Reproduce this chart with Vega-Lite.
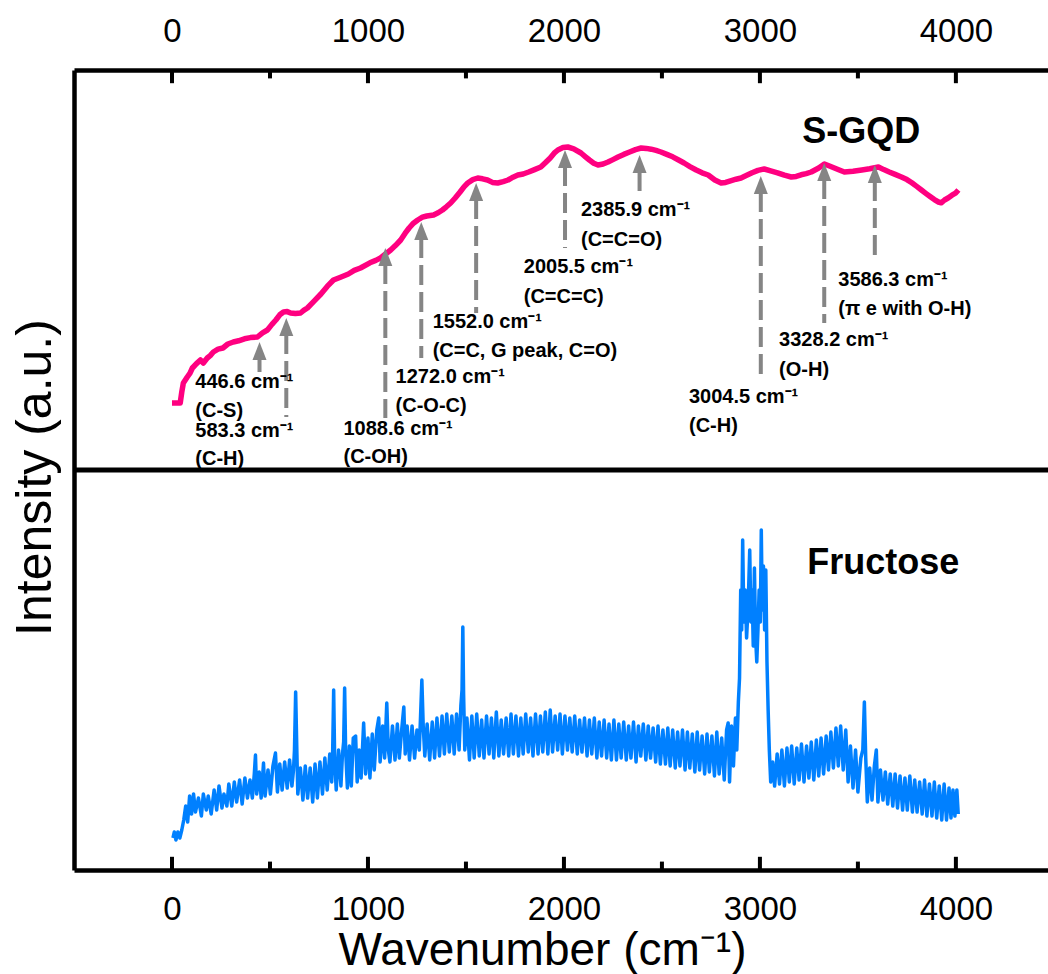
{
  "$schema": "https://vega.github.io/schema/vega-lite/v6.json",
  "width": 974,
  "height": 800,
  "autosize": {"type": "none"},
  "padding": {"left": 74, "top": 70, "right": 0, "bottom": 104},
  "background": "white",
  "config": {"view": {"stroke": null}, "font": "Liberation Sans"},
  "datasets": {
    "sgqd": [
      {"w":0,"i":116.75},{"w":42,"i":116.75},{"w":50,"i":119.5},{"w":58,"i":121.75},{"w":78,"i":123.25},{"w":92,"i":124.2},{"w":104,"i":125.5},{"w":125,"i":126.6},{"w":145,"i":127.5},{"w":160,"i":126.75},{"w":180,"i":128},{"w":195,"i":128.6},{"w":211,"i":129.5},{"w":235,"i":130.2},{"w":260,"i":130.5},{"w":285,"i":131.5},{"w":313,"i":132},{"w":340,"i":132.3},{"w":370,"i":132.8},{"w":400,"i":133.1},{"w":436,"i":133.25},{"w":462,"i":134.3},{"w":487,"i":135},{"w":510,"i":136.4},{"w":530,"i":137.5},{"w":550,"i":138.8},{"w":569,"i":139.5},{"w":588,"i":139.6},{"w":605,"i":139.25},{"w":630,"i":139.1},{"w":656,"i":139.25},{"w":672,"i":139.9},{"w":691,"i":140.5},{"w":725,"i":142.2},{"w":760,"i":144},{"w":792,"i":145.9},{"w":824,"i":147.5},{"w":860,"i":148.2},{"w":900,"i":149},{"w":930,"i":149.9},{"w":962,"i":150.5},{"w":1010,"i":151.8},{"w":1040,"i":152.4},{"w":1064,"i":153},{"w":1090,"i":154},{"w":1116,"i":155},{"w":1140,"i":156.1},{"w":1167,"i":157.5},{"w":1190,"i":159.2},{"w":1210,"i":160.5},{"w":1232,"i":161.7},{"w":1254,"i":162.5},{"w":1278,"i":163.2},{"w":1300,"i":163.5},{"w":1335,"i":163.75},{"w":1358,"i":164.3},{"w":1380,"i":165},{"w":1400,"i":165.8},{"w":1422,"i":166.75},{"w":1445,"i":168},{"w":1470,"i":169.5},{"w":1490,"i":170.8},{"w":1509,"i":171.75},{"w":1535,"i":172.6},{"w":1560,"i":173},{"w":1585,"i":172.8},{"w":1610,"i":172.5},{"w":1635,"i":171.9},{"w":1662,"i":171.75},{"w":1690,"i":172.1},{"w":1715,"i":172.5},{"w":1740,"i":173.2},{"w":1765,"i":173.75},{"w":1792,"i":174},{"w":1820,"i":174.5},{"w":1850,"i":175.1},{"w":1882,"i":175.75},{"w":1905,"i":176.8},{"w":1930,"i":178},{"w":1950,"i":179.2},{"w":1969,"i":180},{"w":1995,"i":180.6},{"w":2020,"i":180.75},{"w":2050,"i":180.3},{"w":2087,"i":179.25},{"w":2110,"i":178.3},{"w":2130,"i":177.5},{"w":2152,"i":176.7},{"w":2174,"i":176.25},{"w":2200,"i":176.5},{"w":2225,"i":177},{"w":2250,"i":177.6},{"w":2276,"i":178.25},{"w":2305,"i":178.9},{"w":2335,"i":179.5},{"w":2365,"i":180.1},{"w":2394,"i":180.5},{"w":2420,"i":180.4},{"w":2445,"i":180.2},{"w":2470,"i":179.9},{"w":2495,"i":179.5},{"w":2525,"i":178.9},{"w":2555,"i":178.3},{"w":2585,"i":177.5},{"w":2613,"i":176.75},{"w":2645,"i":175.8},{"w":2675,"i":175},{"w":2705,"i":174.3},{"w":2736,"i":173.75},{"w":2770,"i":172.5},{"w":2802,"i":171.75},{"w":2825,"i":171.9},{"w":2850,"i":172.3},{"w":2878,"i":172.7},{"w":2904,"i":173},{"w":2930,"i":173.6},{"w":2960,"i":174.3},{"w":2990,"i":174.9},{"w":3022,"i":175.25},{"w":3055,"i":174.8},{"w":3090,"i":174.3},{"w":3125,"i":173.7},{"w":3160,"i":173.25},{"w":3185,"i":173.4},{"w":3210,"i":173.8},{"w":3236,"i":174.1},{"w":3262,"i":174.5},{"w":3300,"i":175.5},{"w":3329,"i":176.5},{"w":3355,"i":176},{"w":3380,"i":175.5},{"w":3405,"i":175},{"w":3431,"i":174.5},{"w":3475,"i":174.7},{"w":3520,"i":175},{"w":3560,"i":175.3},{"w":3605,"i":175.75},{"w":3632,"i":175.1},{"w":3660,"i":174.5},{"w":3690,"i":173.9},{"w":3722,"i":173.25},{"w":3750,"i":172.6},{"w":3775,"i":171.8},{"w":3800,"i":170.9},{"w":3824,"i":170},{"w":3848,"i":169.1},{"w":3870,"i":168.3},{"w":3890,"i":167.6},{"w":3911,"i":167},{"w":3925,"i":166.8},{"w":3942,"i":167.5},{"w":3960,"i":168},{"w":3980,"i":168.7},{"w":3998,"i":169.2},{"w":4013,"i":170}
    ],
    "fructose": [
      {"w":5,"i":8},{"w":12,"i":9.5},{"w":20,"i":7.5},{"w":30,"i":9.5},{"w":40,"i":8},{"w":50,"i":10},{"w":60,"i":12.5},{"w":70,"i":16},{"w":80,"i":12},{"w":90,"i":18.5},{"w":100,"i":14},{"w":110,"i":19},{"w":120,"i":14.5},{"w":135,"i":18},{"w":150,"i":13.5},{"w":160,"i":19},{"w":175,"i":15},{"w":185,"i":18.5},{"w":200,"i":14},{"w":215,"i":20},{"w":228,"i":15},{"w":240,"i":21},{"w":255,"i":15.5},{"w":265,"i":19},{"w":280,"i":16},{"w":290,"i":21.5},{"w":305,"i":16},{"w":318,"i":22},{"w":330,"i":17},{"w":345,"i":22.5},{"w":358,"i":16.5},{"w":372,"i":23},{"w":385,"i":18},{"w":398,"i":22.5},{"w":410,"i":18},{"w":420,"i":24},{"w":426,"i":28.75},{"w":432,"i":19},{"w":445,"i":24.5},{"w":455,"i":18},{"w":467,"i":26.75},{"w":475,"i":18.5},{"w":490,"i":25},{"w":502,"i":19},{"w":515,"i":26},{"w":528,"i":29.25},{"w":538,"i":19.5},{"w":550,"i":26.5},{"w":562,"i":20},{"w":575,"i":27},{"w":588,"i":20.5},{"w":600,"i":27.5},{"w":612,"i":21},{"w":620,"i":25},{"w":625,"i":30},{"w":631,"i":44.5},{"w":637,"i":30},{"w":642,"i":19},{"w":655,"i":25.5},{"w":668,"i":17.5},{"w":680,"i":26},{"w":692,"i":18},{"w":705,"i":25.5},{"w":718,"i":17},{"w":730,"i":26.5},{"w":742,"i":18},{"w":755,"i":27},{"w":768,"i":19},{"w":780,"i":28},{"w":792,"i":20},{"w":805,"i":29},{"w":815,"i":22},{"w":820,"i":30},{"w":825,"i":45},{"w":830,"i":28},{"w":838,"i":20},{"w":850,"i":30},{"w":862,"i":21},{"w":870,"i":29},{"w":876,"i":32},{"w":881,"i":45.5},{"w":886,"i":30},{"w":895,"i":20.5},{"w":905,"i":31},{"w":915,"i":21},{"w":925,"i":33},{"w":937,"i":33.5},{"w":945,"i":22},{"w":955,"i":30},{"w":965,"i":23},{"w":978,"i":36.75},{"w":988,"i":24},{"w":1000,"i":33},{"w":1010,"i":23},{"w":1022,"i":34},{"w":1032,"i":25},{"w":1045,"i":35},{"w":1055,"i":38},{"w":1062,"i":27},{"w":1075,"i":36},{"w":1085,"i":28},{"w":1096,"i":41.75},{"w":1104,"i":30},{"w":1112,"i":27},{"w":1125,"i":36},{"w":1138,"i":27.5},{"w":1150,"i":36.5},{"w":1160,"i":28},{"w":1172,"i":35},{"w":1183,"i":40.75},{"w":1190,"i":29},{"w":1200,"i":36},{"w":1212,"i":27.5},{"w":1225,"i":36},{"w":1238,"i":28},{"w":1250,"i":35},{"w":1262,"i":30},{"w":1268,"i":38},{"w":1275,"i":47.5},{"w":1282,"i":36},{"w":1290,"i":28.5},{"w":1302,"i":36.5},{"w":1315,"i":27.5},{"w":1328,"i":37},{"w":1340,"i":28},{"w":1352,"i":38},{"w":1365,"i":28.5},{"w":1378,"i":38.5},{"w":1390,"i":29},{"w":1402,"i":39},{"w":1415,"i":29.5},{"w":1428,"i":38.5},{"w":1440,"i":29},{"w":1452,"i":39},{"w":1465,"i":30},{"w":1474,"i":41},{"w":1480,"i":45},{"w":1484,"i":60.75},{"w":1488,"i":44},{"w":1494,"i":30},{"w":1505,"i":38},{"w":1518,"i":27.5},{"w":1530,"i":38.5},{"w":1542,"i":28},{"w":1555,"i":39},{"w":1568,"i":28.5},{"w":1580,"i":37.5},{"w":1592,"i":28},{"w":1605,"i":38.5},{"w":1618,"i":29},{"w":1630,"i":38},{"w":1642,"i":28},{"w":1655,"i":39.5},{"w":1668,"i":28.5},{"w":1680,"i":37.5},{"w":1692,"i":29},{"w":1705,"i":38},{"w":1718,"i":28.5},{"w":1730,"i":39},{"w":1742,"i":29},{"w":1755,"i":38.5},{"w":1768,"i":28.5},{"w":1780,"i":38},{"w":1792,"i":29},{"w":1805,"i":39},{"w":1818,"i":29.5},{"w":1830,"i":38},{"w":1842,"i":28.5},{"w":1855,"i":39},{"w":1868,"i":29},{"w":1880,"i":38.5},{"w":1892,"i":29.5},{"w":1905,"i":39.5},{"w":1918,"i":29},{"w":1930,"i":40},{"w":1942,"i":29.5},{"w":1955,"i":38.5},{"w":1968,"i":30},{"w":1980,"i":39},{"w":1992,"i":29},{"w":2005,"i":38.5},{"w":2018,"i":30},{"w":2030,"i":38},{"w":2042,"i":29.5},{"w":2055,"i":38.5},{"w":2068,"i":29},{"w":2080,"i":37.5},{"w":2092,"i":29.5},{"w":2105,"i":38},{"w":2118,"i":28.5},{"w":2130,"i":37.5},{"w":2142,"i":29},{"w":2155,"i":38},{"w":2168,"i":28},{"w":2180,"i":37},{"w":2192,"i":28.5},{"w":2205,"i":37.5},{"w":2218,"i":28},{"w":2230,"i":36.5},{"w":2242,"i":27.5},{"w":2255,"i":37.5},{"w":2268,"i":27.5},{"w":2280,"i":36.5},{"w":2292,"i":28},{"w":2305,"i":37},{"w":2318,"i":27.5},{"w":2330,"i":36},{"w":2342,"i":28},{"w":2355,"i":37},{"w":2368,"i":27},{"w":2380,"i":36},{"w":2392,"i":28.5},{"w":2405,"i":36.5},{"w":2418,"i":27.5},{"w":2430,"i":36},{"w":2442,"i":28},{"w":2455,"i":35.5},{"w":2468,"i":27},{"w":2480,"i":36},{"w":2492,"i":26.5},{"w":2505,"i":35},{"w":2518,"i":26.5},{"w":2530,"i":35.5},{"w":2542,"i":26},{"w":2555,"i":35},{"w":2568,"i":25.5},{"w":2580,"i":34.5},{"w":2592,"i":26},{"w":2605,"i":35},{"w":2618,"i":25},{"w":2630,"i":34.5},{"w":2642,"i":25.5},{"w":2655,"i":34},{"w":2668,"i":24.5},{"w":2680,"i":34.5},{"w":2692,"i":25},{"w":2705,"i":33.5},{"w":2718,"i":24},{"w":2730,"i":34},{"w":2742,"i":24.5},{"w":2755,"i":33.5},{"w":2768,"i":23.5},{"w":2780,"i":34.5},{"w":2792,"i":24},{"w":2805,"i":33},{"w":2818,"i":22.5},{"w":2830,"i":35},{"w":2838,"i":36.75},{"w":2845,"i":22},{"w":2855,"i":36},{"w":2865,"i":26},{"w":2875,"i":38},{"w":2882,"i":30},{"w":2890,"i":42},{"w":2896,"i":48},{"w":2902,"i":70},{"w":2907,"i":60},{"w":2912,"i":82.5},{"w":2918,"i":62},{"w":2925,"i":70},{"w":2932,"i":58},{"w":2940,"i":66},{"w":2948,"i":80},{"w":2954,"i":62},{"w":2960,"i":70},{"w":2966,"i":56},{"w":2972,"i":75.5},{"w":2978,"i":58},{"w":2984,"i":52},{"w":2990,"i":60},{"w":2996,"i":70},{"w":3002,"i":62},{"w":3007,"i":85},{"w":3012,"i":65},{"w":3018,"i":76},{"w":3024,"i":60},{"w":3030,"i":75},{"w":3036,"i":52},{"w":3042,"i":40},{"w":3048,"i":30},{"w":3055,"i":22},{"w":3065,"i":27},{"w":3075,"i":21},{"w":3088,"i":29},{"w":3100,"i":21.5},{"w":3112,"i":30},{"w":3125,"i":21},{"w":3138,"i":30.5},{"w":3150,"i":22},{"w":3162,"i":31},{"w":3175,"i":21.5},{"w":3188,"i":30.5},{"w":3200,"i":22.5},{"w":3212,"i":31.5},{"w":3225,"i":22},{"w":3238,"i":31},{"w":3250,"i":23},{"w":3262,"i":32},{"w":3275,"i":22.5},{"w":3288,"i":32.5},{"w":3300,"i":23.5},{"w":3312,"i":33},{"w":3325,"i":24},{"w":3338,"i":33.5},{"w":3350,"i":25},{"w":3362,"i":34.5},{"w":3375,"i":25.5},{"w":3388,"i":35.5},{"w":3400,"i":26},{"w":3412,"i":36},{"w":3425,"i":25},{"w":3438,"i":35},{"w":3450,"i":22},{"w":3462,"i":31},{"w":3475,"i":20.5},{"w":3488,"i":30},{"w":3500,"i":19.5},{"w":3515,"i":28},{"w":3525,"i":30},{"w":3533,"i":42},{"w":3540,"i":28},{"w":3548,"i":17},{"w":3560,"i":25.5},{"w":3572,"i":17.5},{"w":3584,"i":26},{"w":3594,"i":30},{"w":3602,"i":17},{"w":3615,"i":25},{"w":3628,"i":17.5},{"w":3640,"i":24.5},{"w":3652,"i":16.5},{"w":3665,"i":24},{"w":3678,"i":16},{"w":3690,"i":24},{"w":3702,"i":15.5},{"w":3715,"i":23.5},{"w":3728,"i":15},{"w":3740,"i":23},{"w":3752,"i":15},{"w":3765,"i":23.5},{"w":3778,"i":14.5},{"w":3790,"i":22.5},{"w":3802,"i":14.5},{"w":3815,"i":22},{"w":3828,"i":14},{"w":3840,"i":22.5},{"w":3852,"i":13.5},{"w":3865,"i":21.5},{"w":3878,"i":13.5},{"w":3890,"i":22},{"w":3902,"i":13},{"w":3915,"i":21},{"w":3928,"i":12.5},{"w":3940,"i":21.5},{"w":3952,"i":12.5},{"w":3965,"i":20.5},{"w":3975,"i":13},{"w":3985,"i":20},{"w":3995,"i":13.5},{"w":4005,"i":20},{"w":4012,"i":14}
    ],
    "arrows": [
      {"w":446.6,"tip":132,"base":128,"end":124.5},
      {"w":583.3,"tip":138,"base":134,"end":113.25},
      {"w":1088.6,"tip":155.5,"base":151.5,"end":113},
      {"w":1272.0,"tip":162,"base":158,"end":128},
      {"w":1552.0,"tip":171.75,"base":167.75,"end":139.25},
      {"w":2005.5,"tip":180,"base":176,"end":155.5},
      {"w":2385.9,"tip":178.75,"base":174.75,"end":169.25},
      {"w":3004.5,"tip":173.5,"base":169.5,"end":123.75},
      {"w":3328.2,"tip":176.75,"base":172.75,"end":136.75},
      {"w":3586.3,"tip":176.25,"base":172.25,"end":152}
    ],
    "notes": [
      {"w":119,"i":120.5,"t":"446.6 cm⁻¹"},{"w":119,"i":113.25,"t":"(C-S)"},
      {"w":119,"i":108.25,"t":"583.3 cm⁻¹"},{"w":119,"i":101.25,"t":"(C-H)"},
      {"w":875,"i":108.75,"t":"1088.6 cm⁻¹"},{"w":875,"i":101.75,"t":"(C-OH)"},
      {"w":1141,"i":121.75,"t":"1272.0 cm⁻¹"},{"w":1141,"i":114.5,"t":"(C-O-C)"},
      {"w":1330,"i":135.5,"t":"1552.0 cm⁻¹"},{"w":1330,"i":128.25,"t":"(C=C, G peak, C=O)"},
      {"w":1795,"i":149.25,"t":"2005.5 cm⁻¹"},{"w":1795,"i":141.75,"t":"(C=C=C)"},
      {"w":2087,"i":163.5,"t":"2385.9 cm⁻¹"},{"w":2087,"i":156,"t":"(C=C=O)"},
      {"w":2638,"i":116.75,"t":"3004.5 cm⁻¹"},{"w":2638,"i":109.5,"t":"(C-H)"},
      {"w":3098,"i":131,"t":"3328.2 cm⁻¹"},{"w":3098,"i":123.5,"t":"(O-H)"},
      {"w":3400,"i":146,"t":"3586.3 cm⁻¹"},{"w":3400,"i":138.75,"t":"(π e with O-H)"}
    ],
    "names": [
      {"w":3517,"i":181.75,"t":"S-GQD"},
      {"w":3629,"i":74,"t":"Fructose"}
    ],
    "divider": [{"i":100}],
    "tickmarks": [
      {"w":0,"a":0,"b":3.3},{"w":500,"a":0,"b":2.1},{"w":1000,"a":0,"b":3.3},{"w":1500,"a":0,"b":2.1},{"w":2000,"a":0,"b":3.3},{"w":2500,"a":0,"b":2.1},{"w":3000,"a":0,"b":3.3},{"w":3500,"a":0,"b":2.1},{"w":4000,"a":0,"b":3.3},
      {"w":0,"a":200,"b":196.7},{"w":500,"a":200,"b":197.9},{"w":1000,"a":200,"b":196.7},{"w":1500,"a":200,"b":197.9},{"w":2000,"a":200,"b":196.7},{"w":2500,"a":200,"b":197.9},{"w":3000,"a":200,"b":196.7},{"w":3500,"a":200,"b":197.9},{"w":4000,"a":200,"b":196.7}
    ]
  },
  "resolve": {"axis": {"x": "independent", "y": "independent"}},
  "layer": [
    {
      "data": {"name": "fructose"},
      "mark": {"type": "line", "color": "#0080ff", "strokeWidth": 3.5, "strokeJoin": "round"},
      "encoding": {
        "x": {"field": "w", "type": "quantitative", "scale": {"domain": [-500, 4470], "nice": false, "zero": false},
          "axis": {"orient": "bottom", "values": [0,1000,2000,3000,4000], "format": "d",
            "ticks": false, "domainWidth": 4.5, "domainColor": "black",
            "labelFontSize": 33, "labelFont": "Liberation Sans", "labelColor": "black", "labelPadding": 23, "labelFlush": false,
            "grid": false, "title": "Wavenumber (cm⁻¹)", "titleFontSize": 46, "titleFontWeight": "normal",
            "titleFont": "Liberation Sans", "titleColor": "black", "titleX": 468, "titleY": 94,
            "titleBaseline": "alphabetic", "titleAlign": "center"}},
        "y": {"field": "i", "type": "quantitative", "scale": {"domain": [0, 200], "nice": false},
          "axis": {"orient": "left", "ticks": false, "labels": false, "grid": false, "domainWidth": 4.5, "domainColor": "black",
            "title": "Intensity (a.u.)", "titleFontSize": 50, "titleFontWeight": "normal", "titleFont": "Liberation Sans",
            "titleColor": "black", "titleX": -24, "titleY": 407, "titleAngle": -90, "titleBaseline": "alphabetic", "titleAlign": "center"}}
      }
    },
    {
      "data": {"name": "sgqd"},
      "mark": {"type": "line", "color": "#ff0080", "strokeWidth": 5.5, "strokeJoin": "round"},
      "encoding": {
        "x": {"field": "w", "type": "quantitative",
          "axis": {"orient": "top", "values": [0,1000,2000,3000,4000], "format": "d",
            "ticks": false, "domainWidth": 4.5, "domainColor": "black",
            "labelFontSize": 33, "labelFont": "Liberation Sans", "labelColor": "black", "labelPadding": 22, "labelFlush": false,
            "grid": false, "title": null}},
        "y": {"field": "i", "type": "quantitative", "axis": null}
      }
    },
    {
      "data": {"name": "divider"},
      "mark": {"type": "rule", "color": "black", "strokeWidth": 5},
      "encoding": {"y": {"field": "i", "type": "quantitative", "axis": null}}
    },
    {
      "data": {"name": "arrows"},
      "mark": {"type": "rule", "color": "#858585", "strokeWidth": 4, "strokeDash": [20, 7]},
      "encoding": {
        "x": {"field": "w", "type": "quantitative", "axis": null},
        "y": {"field": "base", "type": "quantitative", "axis": null},
        "y2": {"field": "end"}
      }
    },
    {
      "data": {"name": "arrows"},
      "mark": {"type": "point", "shape": "M0,0L0.7,1.8L-0.7,1.8Z", "size": 400, "filled": true, "color": "#858585", "opacity": 1, "strokeWidth": 0},
      "encoding": {
        "x": {"field": "w", "type": "quantitative", "axis": null},
        "y": {"field": "tip", "type": "quantitative", "axis": null}
      }
    },
    {
      "data": {"name": "notes"},
      "mark": {"type": "text", "align": "left", "baseline": "alphabetic", "fontSize": 20, "fontWeight": "bold", "font": "Liberation Sans", "color": "black"},
      "encoding": {
        "x": {"field": "w", "type": "quantitative", "axis": null},
        "y": {"field": "i", "type": "quantitative", "axis": null},
        "text": {"field": "t"}
      }
    },
    {
      "data": {"name": "names"},
      "mark": {"type": "text", "align": "center", "baseline": "alphabetic", "fontSize": 36, "fontWeight": "bold", "font": "Liberation Sans", "color": "black"},
      "encoding": {
        "x": {"field": "w", "type": "quantitative", "axis": null},
        "y": {"field": "i", "type": "quantitative", "axis": null},
        "text": {"field": "t"}
      }
    },
    {
      "data": {"name": "tickmarks"},
      "mark": {"type": "rule", "color": "#000000", "strokeWidth": 4, "opacity": 1},
      "encoding": {
        "x": {"field": "w", "type": "quantitative", "axis": null},
        "y": {"field": "a", "type": "quantitative", "axis": null},
        "y2": {"field": "b"}
      }
    }
  ]
}
